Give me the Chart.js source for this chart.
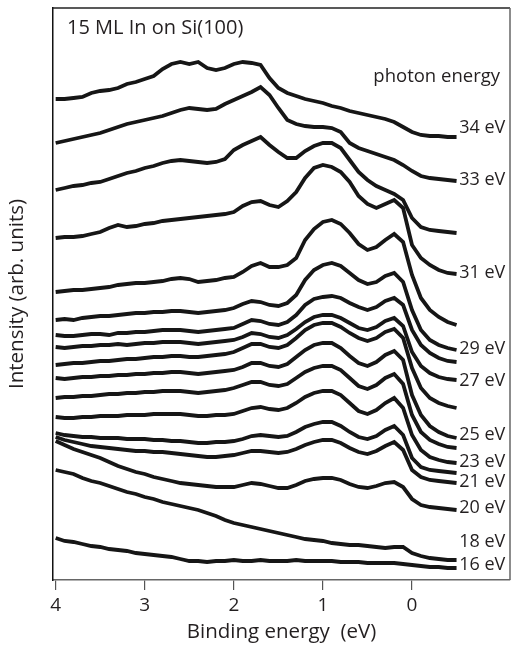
<!DOCTYPE html>
<html>
<head>
<meta charset="utf-8">
<script src="https://cdn.jsdelivr.net/npm/chart.js@4.4.0/dist/chart.umd.min.js"></script>
<style>
  body { margin: 0; background: #fff; }
</style>
</head>
<body>
<canvas id="canvas" width="515" height="648"></canvas>
<script>

/* binding energy grid (eV), 4.0 down to -0.5 */
const bindingEnergy = [4.0,3.9,3.8,3.7,3.6,3.5,3.4,3.3,3.2,3.1,3.0,2.9,2.8,2.7,2.6,2.5,2.4,2.3,2.2,2.1,
    2.0,1.9,1.8,1.7,1.6,1.5,1.4,1.3,1.2,1.1,1.0,0.9,0.8,0.7,0.6,0.5,0.4,0.3,0.2,0.1,
    0.0,-0.1,-0.2,-0.3,-0.4,-0.5];
const tickValues = [4, 3, 2, 1, 0];

/* spectra, offset intensity (arb. units), one per photon energy */
const hv34 = [481,481,482,483,487,489,490,492,496,498,501,504,511,516,518,516,518,512,510,512,516,518,517,515,502,492,487,484,481,479,477,474,472,469,467,465,463,461,458,453,448,445,444,444,443,443];
const hv33 = [437,439,441,443,445,447,450,453,456,458,460,462,464,467,470,472,471,470,471,476,480,484,488,493,485,472,460,456,454,453,453,452,448,437,432,429,426,423,420,415,409,404,402,401,400,399];
const hv32 = [390,392,394,395,397,398,401,404,407,409,412,414,417,419,420,419,418,417,418,421,430,435,439,443,435,428,422,422,429,434,437,437,432,420,408,400,394,390,386,380,362,353,350,349,348,347];
const hv31 = [342,343,343,344,346,348,352,355,353,354,356,357,359,360,361,362,363,364,365,366,368,374,378,379,375,373,379,388,402,412,415,413,408,398,384,376,372,376,380,372,335,322,315,310,307,306];
const hv30 = [288,289,290,290,291,292,293,295,296,297,297,298,299,301,302,301,298,299,300,302,303,308,314,317,313,313,315,322,340,351,358,360,356,347,336,330,333,340,346,338,305,282,270,263,258,255];
const hv29 = [260,261,260,262,263,264,264,265,266,267,267,268,268,269,269,268,267,268,269,270,272,276,279,278,275,274,277,285,300,310,315,317,314,307,300,296,298,304,307,298,270,250,240,235,232,230];
const hv28 = [245,244,244,245,246,246,245,247,247,248,248,249,250,250,250,249,248,249,250,251,252,256,260,259,256,255,258,265,275,281,283,284,282,277,273,270,273,279,282,275,250,235,227,222,219,218];
const hv27 = [233,232,233,234,234,235,235,236,235,236,237,237,238,238,238,237,236,237,238,239,240,243,247,246,243,242,245,251,258,263,265,265,262,257,252,250,253,259,262,254,228,214,207,203,201,200];
const hv26 = [215,216,217,217,218,219,219,220,221,221,222,223,223,224,224,223,223,224,225,226,228,232,236,236,233,232,235,242,250,255,257,257,253,247,242,239,242,248,251,242,212,192,182,177,174,172];
const hv25 = [202,201,202,203,203,204,204,205,205,206,206,207,207,208,208,207,206,207,208,209,210,213,217,217,214,213,216,223,230,235,237,237,232,224,217,214,218,225,229,220,185,165,154,148,144,142];
const hv24 = [182,183,183,184,184,185,186,186,187,187,188,188,189,189,189,188,187,188,189,190,192,195,198,198,195,194,196,202,208,212,214,214,210,202,194,191,195,202,206,196,165,148,140,136,133,132];
const hv23 = [163,162,162,163,163,164,164,164,165,165,165,166,166,166,166,165,164,164,165,165,166,169,172,173,171,170,172,177,183,187,189,189,185,177,169,166,170,177,182,172,145,130,123,120,118,117];
const hv22 = [147,145,144,143,143,142,142,142,141,141,141,140,140,139,139,138,137,137,138,138,139,141,144,145,144,143,144,148,153,156,158,158,154,148,143,141,144,150,154,145,122,113,110,109,108,107];
const hv21 = [143,140,138,136,134,133,132,131,130,129,129,128,128,127,126,125,124,123,123,124,125,127,129,129,128,127,128,131,135,138,140,140,137,132,128,126,129,134,138,130,110,103,100,99,98,97];
const hv20 = [139,135,131,128,125,122,118,114,111,108,106,103,101,99,97,96,95,94,93,93,93,95,97,96,94,92,92,95,99,101,102,102,100,96,93,92,94,97,98,93,81,75,73,72,71,70];
const hv18 = [110,108,106,102,99,97,94,91,88,86,83,81,78,76,74,72,70,67,64,60,57,55,53,51,49,47,45,43,41,40,39,37,36,35,35,34,33,32,33,33,27,24,22,21,20,20];
const hv16 = [42,39,38,36,34,33,31,30,29,27,26,25,24,23,21,19,19,18,19,19,20,19,19,20,19,19,19,20,19,19,19,19,18,18,18,17,17,17,17,16,15,14,13,13,12,12];

const spectra = [hv34, hv33, hv32, hv31, hv30, hv29, hv28, hv27, hv26, hv25, hv24, hv23, hv22, hv21, hv20, hv18, hv16];
const photonEnergy = [34, 33, 32, 31, 30, 29, 28, 27, 26, 25, 24, 23, 22, 21, 20, 18, 16];

/* right-hand labels and where they sit (intensity units) */
const labelText = ['34 eV', '33 eV', '31 eV', '29 eV', '27 eV', '25 eV', '23 eV', '21 eV', '20 eV', '18 eV', '16 eV'];
const labelAt = [452, 400, 307, 231, 199, 145, 118, 98, 72, 38, 15];

const FONT = "'Open Sans', 'DejaVu Sans', sans-serif";

/* frame + text on top of the chart */
const extras = {
    id: 'extras',
    afterDraw(chart) {
        const ctx = chart.ctx;
        const a = chart.chartArea;
        const x = chart.scales.x;
        const y = chart.scales.y;
        ctx.save();
        // top and right border of the box
        ctx.lineWidth = 1.5;
        ctx.strokeStyle = '#222';
        ctx.beginPath();
        ctx.moveTo(a.left, a.top);
        ctx.lineTo(a.right, a.top);
        ctx.stroke();
        ctx.strokeStyle = '#666';
        ctx.beginPath();
        ctx.moveTo(a.right, a.top);
        ctx.lineTo(a.right, a.bottom);
        ctx.stroke();

        ctx.fillStyle = '#231f20';
        ctx.textBaseline = 'middle';
        ctx.textAlign = 'left';
        ctx.font = '20px ' + FONT;
        ctx.fillText('15 ML In on Si(100)', a.left + 14, a.top + 20);

        ctx.font = '18.5px ' + FONT;
        ctx.textAlign = 'right';
        ctx.fillText('photon energy', a.right - 10, a.top + 69);

        ctx.textAlign = 'left';
        ctx.font = '18px ' + FONT;
        for (let i = 0; i < labelText.length; i++) {
            ctx.fillText(labelText[i], x.getPixelForValue(-0.53), y.getPixelForValue(labelAt[i]));
        }
        ctx.restore();
    }
};

const datasets = spectra.map(function(s, i){
    return {
        label: photonEnergy[i] + ' eV',
        data: bindingEnergy.map(function(e, k){ return {x: e, y: s[k]}; }),
        borderColor: '#161616',
        borderWidth: 3.8,
        pointRadius: 0,
        tension: 0,
        fill: false
    };
});

const ctx = document.getElementById('canvas');
new Chart(ctx, {
    type: 'line',
    data: { datasets: datasets },
    plugins: [extras],
    options: {
        responsive: false,
        animation: false,
        layout: { padding: { top: 8, right: 5, left: 0, bottom: 0 } },
        plugins: {
            legend: { display: false },
            tooltip: { enabled: false }
        },
        scales: {
            x: {
                type: 'linear',
                reverse: true,
                min: -1.1,
                max: 4.03,
                afterFit: function(scale){ scale.height = 68; },
                afterBuildTicks: function(scale){
                    scale.ticks = tickValues.map(function(v){ return {value: v}; });
                },
                grid: { drawOnChartArea: false, tickLength: 10, color: '#555', lineWidth: 1.2 },
                border: { color: '#666', width: 1.5 },
                ticks: {
                    padding: 4,
                    color: '#231f20',
                    font: { family: FONT, size: 19 },
                    maxRotation: 0,
                    callback: function(v){ return v; }
                },
                title: {
                    display: true,
                    text: 'Binding energy  (eV)',
                    color: '#231f20',
                    font: { family: FONT, size: 20.5 },
                    padding: { top: 0, bottom: 4 }
                }
            },
            y: {
                min: 0,
                max: 572,
                afterFit: function(scale){ scale.width = 53; },
                grid: { display: false },
                border: { color: '#111', width: 1.5 },
                ticks: { display: false },
                title: {
                    display: true,
                    text: 'Intensity (arb. units)',
                    color: '#231f20',
                    font: { family: FONT, size: 20.5 },
                    padding: { top: 5, bottom: 0 }
                }
            }
        }
    }
});
</script>
</body>
</html>
